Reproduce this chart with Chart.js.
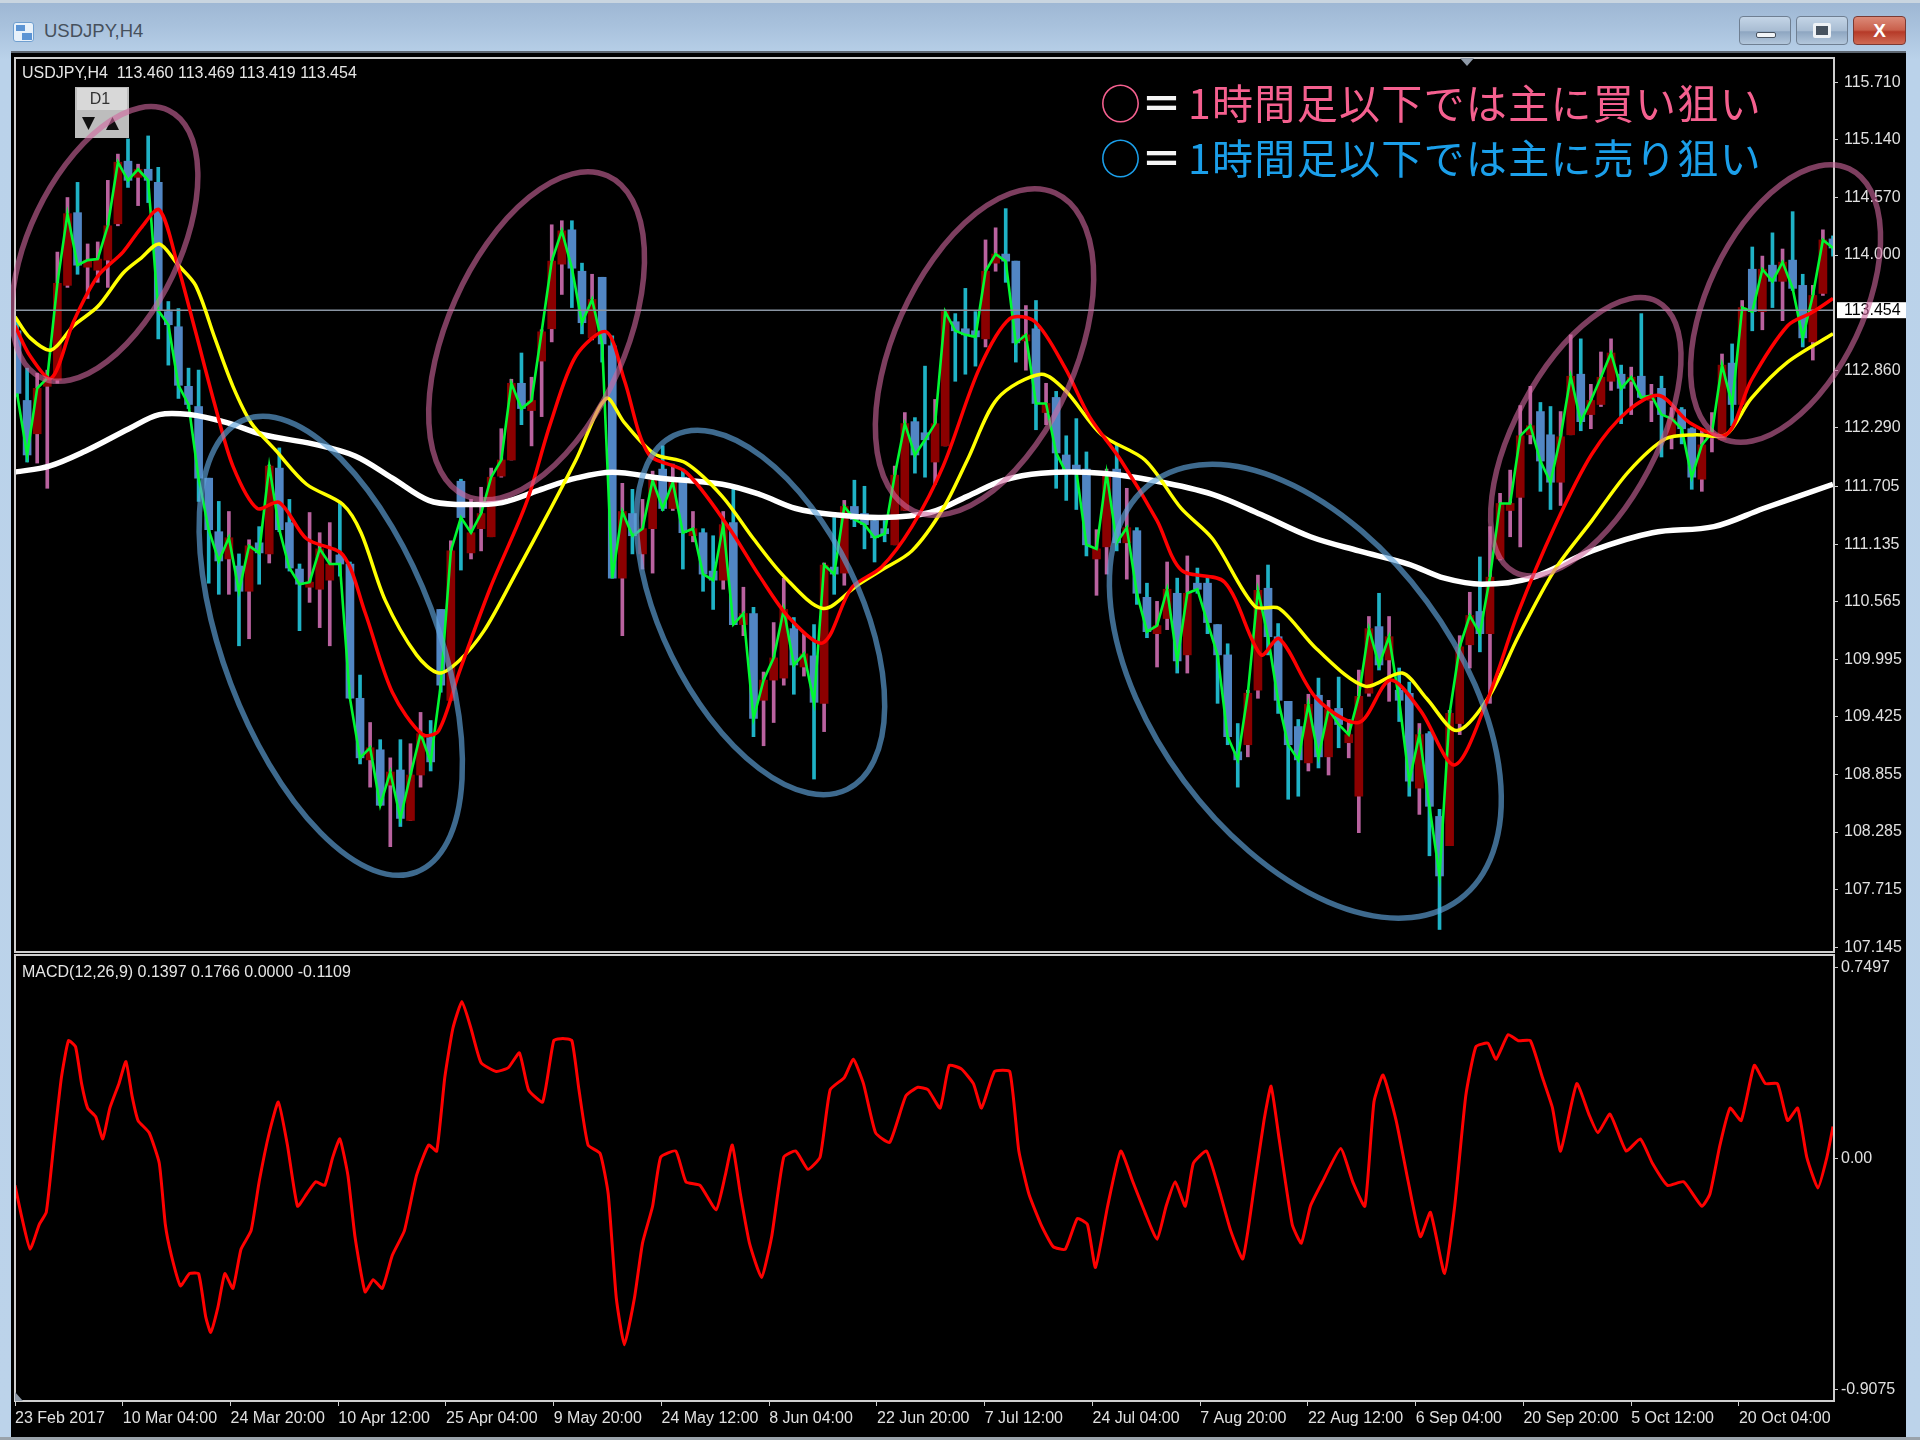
<!DOCTYPE html>
<html>
<head>
<meta charset="utf-8">
<title>USDJPY,H4</title>
<script src="https://cdn.jsdelivr.net/npm/chart.js@4"></script>
<style>
    html, body { margin: 0; padding: 0; background: #bcd3ea; }
    #page { position: relative; width: 1920px; height: 1440px; overflow: hidden; filter: blur(0.7px);
        background: linear-gradient(180deg, #9db6d3 0px, #a8c1dc 25px, #bad2ea 60px, #bcd3ea 100%); }
    #topline { position: absolute; left: 0; top: 0; width: 1920px; height: 3px; background: #c9d5e0; }
    #black { position: absolute; left: 11px; top: 53px; width: 1895px; height: 1384px; background: #000; box-shadow: 0 -2px 0 #5d6670; }
    #bottomline { position: absolute; left: 0; top: 1437px; width: 1920px; height: 3px; background: #9aa3ab; }
    canvas { position: absolute; left: 11px; }
    #priceChart { top: 53px; }
    #macdChart { top: 953px; }
    #title { position: absolute; left: 44px; top: 20px; font: 18.5px "Liberation Sans", sans-serif; color: #46505c; }
    #icon { position: absolute; left: 13px; top: 22px; width: 21px; height: 20px; border-radius: 3px; background: #e8f1fa; border: 1px solid #6f9fd0; box-sizing: border-box; }
    #icon div { position: absolute; background: #5c94d4; }
    .btn { position: absolute; top: 16px; height: 29px; border-radius: 4px; border: 1px solid #6f7f92; box-sizing: border-box;
        background: linear-gradient(180deg, #c4d5e7 0%, #a9bdd3 50%, #8ea6c1 55%, #b3c7dc 100%); color: #fff; text-align: center; }
    #btnMin { left: 1739px; width: 52px; }
    #btnMax { left: 1796px; width: 52px; }
    #btnClose { left: 1853px; width: 53px; border-color: #7b3a33; background: linear-gradient(180deg, #dc8a78 0%, #c9604c 48%, #b63a28 55%, #cf6a54 100%); font: bold 19px/27px "Liberation Sans", sans-serif; }
    #btnMin div { position: absolute; left: 16px; top: 15px; width: 20px; height: 6px; background: #f1f4f7; border: 1px solid #47525f; border-radius: 2px; box-sizing: border-box; }
    #btnMax div { position: absolute; left: 16px; top: 6px; width: 18px; height: 15px; background: #46525f; border: 3px solid #eef2f6; border-radius: 2px; box-sizing: border-box; }
    .note { position: absolute; left: 1100px; font: 400 41px/46px "Noto Sans CJK JP", sans-serif; white-space: nowrap; }
    .note .eq { color: #f4f4f4; font-weight: 700; }
    .note .txt { margin-left: 6px; letter-spacing: 1.3px; }
    #noteBuy { top: 78px; color: #f5608f; }
    #noteSell { top: 133px; color: #1b9fea; }
</style>
</head>
<body>
<div id="page">
    <div id="topline"></div>
    <div id="icon"><div style="left:2px;top:2px;width:9px;height:6px"></div><div style="left:8px;top:10px;width:10px;height:7px"></div></div>
    <div id="title">USDJPY,H4</div>
    <div class="btn" id="btnMin"><div></div></div>
    <div class="btn" id="btnMax"><div></div></div>
    <div class="btn" id="btnClose">X</div>
    <div id="black"></div>
    <div id="bottomline"></div>
    <canvas id="priceChart" width="1895" height="900"></canvas>
    <canvas id="macdChart" width="1895" height="484"></canvas>
    <div class="note" id="noteBuy">○<span class="eq">＝</span><span class="txt">1時間足以下では主に買い狙い</span></div>
    <div class="note" id="noteSell">○<span class="eq">＝</span><span class="txt">1時間足以下では主に売り狙い</span></div>
</div>
<script>
const opens = [
    113.25,112.56,112.23,112.70,112.76,113.70,114.42,113.88,113.85,113.95,
    114.31,114.93,114.77,114.85,114.72,113.44,113.29,112.70,112.50,111.79,
    111.26,110.99,110.92,110.67,111.15,111.04,111.89,111.35,110.89,110.71,
    110.69,110.78,111.03,110.94,109.61,109.00,109.10,108.75,108.90,108.40,
    108.85,109.22,110.49,109.59,111.76,111.05,111.29,111.21,111.81,111.97,
    112.73,112.46,112.95,113.27,113.91,114.25,113.84,113.18,113.78,113.10,
    110.80,111.44,111.04,111.29,111.88,111.49,111.80,111.22,111.25,110.87,
    110.78,111.35,110.34,110.45,109.59,109.79,109.81,110.30,109.92,110.03,
    109.56,110.91,110.85,111.51,111.44,111.37,111.29,111.13,111.47,112.35,
    112.24,111.95,112.11,113.34,113.27,113.25,113.17,113.92,114.01,113.94,
    113.15,113.27,112.44,112.59,112.02,111.92,111.88,110.99,111.11,111.88,
    111.15,111.27,110.61,110.25,110.40,110.65,110.04,110.75,110.75,110.34,
    110.04,109.08,109.15,109.69,110.70,110.22,109.58,109.33,108.97,109.64,
    109.03,109.51,109.17,108.64,109.66,110.32,109.99,109.69,109.66,108.72,
    109.26,108.44,108.15,109.36,110.14,110.47,110.25,110.99,111.47,111.60,
    112.22,112.45,112.22,111.75,112.22,112.82,112.42,112.52,112.75,112.82,
    112.75,112.80,112.56,112.68,112.20,112.47,112.28,111.78,112.19,112.17,
    112.93,112.52,113.86,113.44,113.90,113.74,113.95,113.70,113.14,113.62,114.16
]
const closes = [
    112.63,112.02,112.68,112.78,113.72,114.41,113.90,113.95,113.96,114.29,
    114.92,114.74,114.85,114.74,113.45,113.31,112.71,112.52,111.79,111.28,
    110.97,111.20,110.67,111.12,111.05,111.91,111.28,110.90,110.74,110.76,
    111.09,110.94,110.94,109.61,109.02,109.12,108.55,108.88,108.42,108.85,
    109.26,108.98,109.74,111.07,111.40,111.25,111.44,111.80,111.97,112.73,
    112.48,112.56,113.24,113.94,114.24,113.87,113.33,113.56,113.12,110.80,
    111.46,111.22,111.29,111.77,111.49,111.75,111.25,111.29,110.84,110.78,
    111.33,110.34,110.45,109.41,109.79,110.01,110.49,109.94,110.05,109.57,
    110.93,110.84,111.51,111.38,111.33,111.20,111.24,111.82,112.33,112.02,
    112.17,112.33,113.44,113.25,113.21,113.19,113.84,114.01,113.94,113.13,
    113.21,112.53,112.53,112.04,111.84,111.86,111.13,111.09,111.84,111.15,
    111.30,110.65,110.27,110.33,110.69,109.98,110.65,110.69,110.36,110.04,
    109.23,109.00,109.66,110.68,110.22,109.59,109.15,109.00,109.55,109.03,
    109.50,109.35,109.25,109.63,110.30,109.94,110.22,109.59,108.79,109.25,
    108.54,107.85,109.46,110.12,110.43,110.25,110.81,111.54,111.54,112.21,
    112.31,111.96,111.75,112.20,112.80,112.35,112.56,112.79,113.03,112.68,
    112.79,112.59,112.61,112.42,112.38,112.28,111.80,112.12,112.24,112.91,
    112.52,113.48,113.44,113.86,113.74,113.93,113.67,113.18,113.60,114.15,114.07
]
const highs = [
    113.35,112.88,112.83,112.86,114.03,114.57,114.72,114.11,114.13,114.74,
    115.00,115.15,114.90,115.18,114.87,113.54,113.47,112.88,112.86,111.79,
    111.56,111.46,111.04,111.18,111.31,111.92,112.09,111.58,110.94,111.45,
    111.25,111.35,111.54,110.96,109.84,109.37,109.20,109.02,109.20,109.16,
    109.47,109.39,110.49,111.17,111.78,111.58,111.70,111.89,112.28,112.77,
    113.03,112.79,113.26,114.30,114.34,114.34,113.92,113.81,113.78,113.20,
    111.74,111.68,111.58,111.86,112.11,111.93,111.88,111.46,111.29,111.22,
    111.46,111.69,110.71,110.51,109.87,110.36,110.80,110.41,110.25,110.34,
    110.95,111.40,111.57,111.77,111.71,111.38,111.37,111.91,112.44,112.39,
    112.90,112.57,113.44,113.42,113.67,113.44,114.15,114.27,114.46,113.94,
    113.50,113.55,112.73,112.65,112.21,112.38,112.05,111.28,111.88,112.13,
    111.69,111.30,110.75,110.57,110.96,110.80,111.02,110.90,110.80,110.34,
    110.15,109.36,109.69,110.83,110.93,110.35,109.58,109.40,109.65,109.81,
    109.59,109.82,109.40,109.89,110.42,110.65,110.42,109.91,109.77,109.36,
    109.28,108.51,109.49,110.23,110.66,111.01,111.31,111.64,111.87,112.51,
    112.70,112.54,112.50,112.45,113.21,113.17,112.72,113.04,113.17,112.91,
    112.89,113.42,112.72,112.80,112.49,112.49,112.29,112.28,112.44,113.02,
    113.12,113.55,114.08,113.99,114.22,114.06,114.43,113.81,113.70,114.25,114.19
]
const lows = [
    112.60,111.95,111.94,111.69,112.73,113.68,113.81,113.57,113.73,113.68,
    114.29,114.67,114.49,114.52,113.17,112.91,112.58,112.48,111.56,110.75,
    110.64,110.64,110.13,110.20,110.74,110.95,111.26,110.87,110.28,110.56,
    110.31,110.13,110.82,109.61,108.96,108.73,108.55,108.14,108.34,108.40,
    108.73,108.89,109.67,109.59,110.88,110.99,111.07,111.21,111.80,111.97,
    112.32,112.11,112.40,113.14,113.61,113.48,113.22,113.16,112.94,110.80,
    110.23,111.04,110.89,110.85,111.47,111.47,110.89,111.16,110.67,110.49,
    110.69,110.34,110.23,109.23,109.14,109.37,109.74,109.65,109.83,108.81,
    109.28,110.64,110.73,111.31,111.09,110.96,111.16,111.13,111.47,111.84,
    111.80,111.73,112.11,112.75,112.82,112.90,113.09,113.84,113.73,112.94,
    112.86,112.27,112.32,111.69,111.57,111.48,111.02,110.63,110.84,111.07,
    110.79,110.54,110.21,109.92,110.29,109.86,109.86,110.65,110.25,109.56,
    109.15,108.73,109.03,109.61,110.04,109.46,108.61,108.64,108.89,108.92,
    108.85,109.12,109.02,108.28,109.63,109.89,109.58,109.38,108.64,108.46,
    108.05,107.32,108.15,109.25,109.91,110.07,109.56,110.98,111.21,111.11,
    112.13,111.66,111.48,111.52,112.22,112.26,112.28,112.50,112.66,112.33,
    112.42,112.58,112.35,112.00,112.08,112.13,111.68,111.66,112.05,112.17,
    112.31,112.52,113.25,113.26,113.48,113.35,113.65,113.09,112.96,113.60,113.99
]

// moving averages, read at the bends of each line: bar position, price
const whiteBars = [-0.2,3.2,6.8,11.1,14.1,17.1,20.8,24.4,29.3,33.5,37.2,40.8,43.8,48.1,51.7,55.4,59.0,63.8,69.9,73.6,77.2,80.8,85.7,90.5,94.2,97.8,101.5,107.5,113.0,118.5,123.3,128.2,133.0,137.9,141.5,145.2,150.0,156.1,162.1,168.2,173.1,180.0]
const whiteMa = [111.85,111.91,112.06,112.28,112.42,112.42,112.34,112.22,112.13,112.01,111.79,111.57,111.53,111.55,111.67,111.79,111.85,111.79,111.73,111.63,111.49,111.43,111.40,111.45,111.61,111.77,111.84,111.84,111.76,111.63,111.43,111.21,111.07,110.94,110.80,110.74,110.80,111.07,111.25,111.31,111.49,111.73]
const yellowBars = [-0.2,1.3,3.4,5.6,8.0,10.5,12.3,14.1,15.9,17.7,19.6,21.4,23.2,25.6,28.7,32.3,34.1,36.5,39.6,41.8,43.8,46.3,49.3,52.9,55.4,58.4,60.2,63.2,66.3,69.9,73.0,76.0,79.9,83.3,85.7,88.7,91.8,94.2,97.2,101.5,103.9,107.5,111.8,115.4,118.5,122.7,125.1,128.8,133.6,137.3,139.7,142.7,145.8,148.8,152.4,156.1,159.7,163.4,166.4,169.4,171.9,175.5,180.0]
const yellowMa = [113.39,113.18,113.06,113.30,113.49,113.82,113.97,114.11,113.91,113.70,113.18,112.70,112.34,112.07,111.73,111.53,111.25,110.58,110.04,109.86,109.98,110.28,110.82,111.49,111.97,112.58,112.34,112.03,111.94,111.61,111.19,110.82,110.50,110.73,110.88,111.07,111.49,111.97,112.58,112.82,112.66,112.22,111.97,111.49,111.19,110.52,110.50,110.10,109.73,109.86,109.61,109.29,109.61,110.22,110.88,111.37,111.85,112.18,112.22,112.22,112.58,112.94,113.22]
const redBars = [-0.2,1.3,3.4,5.6,8.0,10.5,12.3,14.1,15.9,17.7,19.6,21.4,23.8,26.0,28.7,32.3,34.5,37.2,40.2,41.8,43.8,46.9,50.5,52.9,55.4,58.4,60.2,62.6,66.3,70.5,73.6,76.6,79.9,82.7,85.7,88.7,91.8,95.4,98.4,100.9,103.9,106.3,109.4,113.0,115.4,119.7,123.3,125.1,128.8,133.0,136.1,139.1,142.5,145.8,148.8,152.4,156.1,159.7,162.8,165.8,169.4,171.9,175.5,177.9,180.0]
const redMa = [113.30,113.00,112.78,113.34,113.79,114.03,114.27,114.45,113.91,113.24,112.52,111.91,111.49,111.55,111.19,111.03,110.46,109.67,109.25,109.29,109.86,110.70,111.55,112.34,113.00,113.24,112.76,112.03,111.85,111.31,110.82,110.40,110.16,110.70,110.91,111.31,111.91,112.88,113.37,113.34,112.88,112.40,111.97,111.37,110.88,110.76,110.04,110.20,109.61,109.37,109.79,109.49,108.95,109.61,110.46,111.31,112.03,112.46,112.61,112.34,112.22,112.76,113.30,113.43,113.57]

const macdBars = [-0.2,0.5,1.3,2.2,2.9,3.7,4.4,5.1,5.8,6.4,7.0,7.8,8.5,9.2,10.1,10.8,11.4,12.0,13.1,14.1,14.7,15.3,16.2,17.1,18.0,18.7,19.2,19.9,20.6,21.4,22.2,23.2,24.0,25.0,25.9,26.8,27.8,28.7,29.6,30.5,31.3,32.0,32.8,33.5,34.5,35.3,36.2,37.2,38.4,39.6,40.8,41.6,42.4,43.2,44.1,45.0,46.0,47.5,48.7,49.8,50.7,52.1,53.2,54.1,55.0,55.7,56.6,57.8,58.6,59.4,60.2,61.2,62.0,63.0,63.8,65.3,66.3,67.7,69.3,70.2,70.9,71.7,72.6,73.8,74.8,76.0,77.2,78.4,79.6,80.6,82.0,82.9,83.9,85.1,86.5,88.1,89.3,90.3,91.5,92.4,93.6,94.8,95.6,96.9,98.4,99.3,100.3,101.5,102.7,103.9,105.1,106.1,106.9,108.1,109.4,110.6,111.8,113.0,113.9,114.8,115.8,116.6,117.9,119.1,120.3,121.5,122.7,123.6,124.3,125.1,126.4,127.3,128.2,129.4,131.2,132.4,133.6,134.5,135.4,136.7,137.9,139.1,140.1,141.5,142.5,143.6,144.6,145.8,146.6,147.8,148.8,150.0,151.2,152.2,153.0,154.6,155.8,156.7,157.9,159.5,160.9,162.1,163.6,165.2,167.0,167.8,168.8,169.8,170.9,172.2,173.3,174.5,175.5,176.5,177.4,178.5,179.4,180.0]
const macdValues = [-0.106,-0.236,-0.357,-0.260,-0.212,0.077,0.318,0.463,0.439,0.294,0.198,0.164,0.077,0.198,0.294,0.381,0.246,0.149,0.101,-0.019,-0.260,-0.381,-0.501,-0.453,-0.453,-0.622,-0.684,-0.588,-0.453,-0.511,-0.357,-0.284,-0.092,0.101,0.222,0.053,-0.188,-0.140,-0.092,-0.106,0.005,0.077,-0.067,-0.308,-0.525,-0.477,-0.511,-0.381,-0.284,-0.067,0.053,0.029,0.318,0.511,0.617,0.511,0.376,0.342,0.357,0.415,0.270,0.222,0.463,0.472,0.463,0.270,0.053,0.019,-0.140,-0.549,-0.733,-0.549,-0.333,-0.188,0.005,0.029,-0.092,-0.106,-0.202,-0.067,0.053,-0.140,-0.333,-0.468,-0.308,0.005,0.029,-0.043,0.005,0.270,0.318,0.390,0.294,0.101,0.063,0.246,0.280,0.270,0.198,0.366,0.352,0.294,0.198,0.342,0.342,0.029,-0.140,-0.260,-0.347,-0.357,-0.236,-0.260,-0.429,-0.188,0.029,-0.092,-0.212,-0.318,-0.188,-0.092,-0.188,-0.019,0.029,-0.116,-0.284,-0.395,-0.092,0.149,0.284,0.077,-0.260,-0.333,-0.188,-0.092,0.039,-0.092,-0.188,0.222,0.328,0.149,-0.092,-0.308,-0.212,-0.453,-0.188,0.246,0.439,0.453,0.390,0.487,0.463,0.463,0.318,0.198,0.029,0.294,0.174,0.101,0.174,0.029,0.077,-0.019,-0.106,-0.092,-0.188,-0.140,0.053,0.198,0.149,0.366,0.294,0.294,0.149,0.198,0.005,-0.116,0.005,0.125]

const priceTicks = [115.71,115.14,114.57,114.00,112.86,112.29,111.705,111.135,110.565,109.995,109.425,108.855,108.285,107.715,107.145]
const macdTicks = [0.7497,0,-0.9075]
const macdTickLabels = ['0.7497','0.00','-0.9075']
const dateLabels = ['23 Feb 2017','10 Mar 04:00','24 Mar 20:00','10 Apr 12:00','25 Apr 04:00','9 May 20:00','24 May 12:00','8 Jun 04:00','22 Jun 20:00','7 Jul 12:00','24 Jul 04:00','7 Aug 20:00','22 Aug 12:00','6 Sep 04:00','20 Sep 20:00','5 Oct 12:00','20 Oct 04:00']
const lastPrice = 113.454

// hand drawn rings on the price panel: centre in bars and price, radii in px, tilt in degrees
const rings = [
    { bar: 8.7, price: 114.11, long: 148, short: 75, tilt: 25.6, color: 'rgba(208,103,158,0.6)' },
    { bar: 51.5, price: 113.20, long: 175, short: 89, tilt: 23.9, color: 'rgba(208,103,158,0.6)' },
    { bar: 31.1, price: 110.13, long: 242, short: 107, tilt: -20.7, color: 'rgba(95,163,218,0.65)' },
    { bar: 73.7, price: 110.46, long: 197, short: 99, tilt: -26.1, color: 'rgba(95,163,218,0.65)' },
    { bar: 95.9, price: 113.04, long: 174, short: 91, tilt: 24, color: 'rgba(208,103,158,0.6)' },
    { bar: 127.7, price: 109.68, long: 259, short: 151, tilt: -36.4, color: 'rgba(95,163,218,0.65)' },
    { bar: 155.5, price: 112.20, long: 153, short: 71, tilt: 27.9, color: 'rgba(208,103,158,0.6)' },
    { bar: 175.3, price: 113.52, long: 149, short: 78, tilt: 25.3, color: 'rgba(208,103,158,0.6)' }
]

Chart.defaults.font.family = '"Liberation Sans", sans-serif'
Chart.defaults.font.size = 16
Chart.defaults.color = '#e0e0e0'
Chart.defaults.animation = false

const barMin = -0.2
const barMax = 180.1
const axisColor = '#cfcfcf'
const isUp = opens.map((o, i) => closes[i] >= o)

function pairs(xs, ys) {
    return xs.map((x, i) => ({ x: x, y: ys[i] }))
}

function lineSet(data, color, width, order, tension) {
    return {
        type: 'line',
        data: data,
        borderColor: color,
        borderWidth: width,
        pointRadius: 0,
        tension: tension,
        order: order
    }
}

// the axes must not push the plot area in, the panels have fixed edges
function fixAxisSize(scale, size) {
    if (scale.isHorizontal()) {
        scale.height = size
    } else {
        scale.width = size
    }
    scale.paddingTop = 0
    scale.paddingBottom = 0
    scale.paddingLeft = 0
    scale.paddingRight = 0
}

function drawFrame(chart) {
    const { ctx, chartArea: a } = chart
    ctx.save()
    ctx.strokeStyle = axisColor
    ctx.lineWidth = 2
    ctx.strokeRect(a.left, a.top, a.right - a.left, a.bottom - a.top)
    ctx.restore()
}

const priceOverlay = {
    id: 'priceOverlay',
    afterDraw(chart) {
        const { ctx, chartArea: a, scales: { x, y } } = chart
        drawFrame(chart)
        ctx.save()

        ctx.font = '16px "Liberation Sans"'
        ctx.fillStyle = '#e6e6e6'
        ctx.textBaseline = 'middle'
        ctx.fillText('USDJPY,H4  113.460 113.469 113.419 113.454', a.left + 7, 21)

        // little marker on the top edge
        ctx.fillStyle = '#8f9aa8'
        ctx.beginPath()
        ctx.moveTo(1449, a.top)
        ctx.lineTo(1463, a.top)
        ctx.lineTo(1456, a.top + 8)
        ctx.fill()

        // D1 widget
        ctx.fillStyle = '#bdbdbd'
        ctx.fillRect(64, 34, 54, 51)
        ctx.fillStyle = '#d8d8d8'
        ctx.fillRect(66, 35, 50, 22)
        ctx.fillStyle = '#333'
        ctx.textAlign = 'center'
        ctx.fillText('D1', 89, 47)
        ctx.fillStyle = '#101010'
        ctx.beginPath()
        ctx.moveTo(71, 64)
        ctx.lineTo(84, 64)
        ctx.lineTo(77.5, 77)
        ctx.fill()
        ctx.beginPath()
        ctx.moveTo(95, 77)
        ctx.lineTo(108, 77)
        ctx.lineTo(101.5, 64)
        ctx.fill()
        ctx.textAlign = 'left'

        // last price tag
        const tagY = y.getPixelForValue(lastPrice)
        ctx.fillStyle = '#ffffff'
        ctx.fillRect(a.right + 3, tagY - 8, 69, 16)
        ctx.fillStyle = '#000000'
        ctx.fillText(lastPrice.toFixed(3), a.right + 10, tagY)

        ctx.lineWidth = 5.5
        rings.forEach(r => {
            ctx.strokeStyle = r.color
            ctx.beginPath()
            ctx.ellipse(x.getPixelForValue(r.bar), y.getPixelForValue(r.price), r.short, r.long, r.tilt * Math.PI / 180, 0, Math.PI * 2)
            ctx.stroke()
        })
        ctx.restore()
    }
}

const macdOverlay = {
    id: 'macdOverlay',
    afterDraw(chart) {
        const { ctx, chartArea: a } = chart
        drawFrame(chart)
        ctx.save()
        ctx.font = '16px "Liberation Sans"'
        ctx.fillStyle = '#e6e6e6'
        ctx.textBaseline = 'middle'
        ctx.fillText('MACD(12,26,9) 0.1397 0.1766 0.0000 -0.1109', a.left + 7, 20)
        ctx.fillStyle = '#8f9aa8'
        ctx.beginPath()
        ctx.moveTo(a.left, a.bottom - 9)
        ctx.lineTo(a.left, a.bottom)
        ctx.lineTo(a.left + 8, a.bottom)
        ctx.fill()
        ctx.restore()
    }
}

const priceChart = new Chart(document.getElementById('priceChart'), {
    type: 'bar',
    data: {
        datasets: [
            {
                data: opens.map((o, i) => ({ x: i, y: [lows[i], highs[i]] })),
                backgroundColor: isUp.map(up => up ? '#b9629f' : '#1fb2c6'),
                barThickness: 3,
                grouped: false,
                borderWidth: 0,
                order: 8
            },
            {
                data: opens.map((o, i) => ({ x: i, y: [o, closes[i]] })),
                backgroundColor: isUp.map(up => up ? '#8b0000' : '#5186c4'),
                barThickness: 8,
                minBarLength: 2,
                grouped: false,
                borderWidth: 0,
                order: 7
            },
            lineSet(closes.map((c, i) => ({ x: i, y: c })), '#00f832', 2.6, 6, 0),
            lineSet([{ x: barMin, y: lastPrice }, { x: barMax, y: lastPrice }], '#8a95a3', 1.5, 5, 0),
            lineSet(pairs(whiteBars, whiteMa), '#ffffff', 5.5, 3, 0.35),
            lineSet(pairs(yellowBars, yellowMa), '#ffff00', 3.5, 2, 0.3),
            lineSet(pairs(redBars, redMa), '#ff0000', 3.5, 1, 0.3)
        ]
    },
    options: {
        responsive: false,
        layout: { autoPadding: false, padding: { left: 4, top: 5, bottom: 1, right: 0 } },
        plugins: { legend: { display: false }, tooltip: { enabled: false } },
        scales: {
            x: {
                type: 'linear',
                display: false,
                offset: false,
                min: barMin,
                max: barMax
            },
            y: {
                position: 'right',
                min: 107.097,
                max: 115.952,
                grid: { drawOnChartArea: false, color: axisColor, tickLength: 4 },
                border: { display: false },
                afterBuildTicks: scale => { scale.ticks = priceTicks.map(v => ({ value: v })) },
                afterFit: scale => fixAxisSize(scale, 72),
                ticks: { padding: 6, callback: v => v.toFixed(3) }
            }
        }
    },
    plugins: [priceOverlay]
})

const macdChart = new Chart(document.getElementById('macdChart'), {
    type: 'line',
    data: {
        datasets: [lineSet(pairs(macdBars, macdValues), '#ff0000', 3, 1, 0.15)]
    },
    options: {
        responsive: false,
        layout: { autoPadding: false, padding: { left: 4, top: 2, bottom: 0, right: 0 } },
        plugins: { legend: { display: false }, tooltip: { enabled: false } },
        scales: {
            x: {
                type: 'linear',
                min: barMin,
                max: barMax,
                grid: { drawOnChartArea: false, color: axisColor, tickLength: 5 },
                border: { display: false },
                afterBuildTicks: scale => { scale.ticks = dateLabels.map((l, i) => ({ value: i * 10.68 - 0.2 })) },
                afterFit: scale => fixAxisSize(scale, 36),
                ticks: {
                    autoSkip: false,
                    maxRotation: 0,
                    minRotation: 0,
                    align: 'start',
                    padding: 3,
                    callback: (v, i) => dateLabels[i]
                }
            },
            y: {
                position: 'right',
                min: -0.954,
                max: 0.80,
                grid: { drawOnChartArea: false, color: axisColor, tickLength: 4 },
                border: { display: false },
                afterBuildTicks: scale => { scale.ticks = macdTicks.map(v => ({ value: v })) },
                afterFit: scale => fixAxisSize(scale, 72),
                ticks: { padding: 3, callback: (v, i) => macdTickLabels[i] }
            }
        }
    },
    plugins: [macdOverlay]
})
</script>
</body>
</html>
